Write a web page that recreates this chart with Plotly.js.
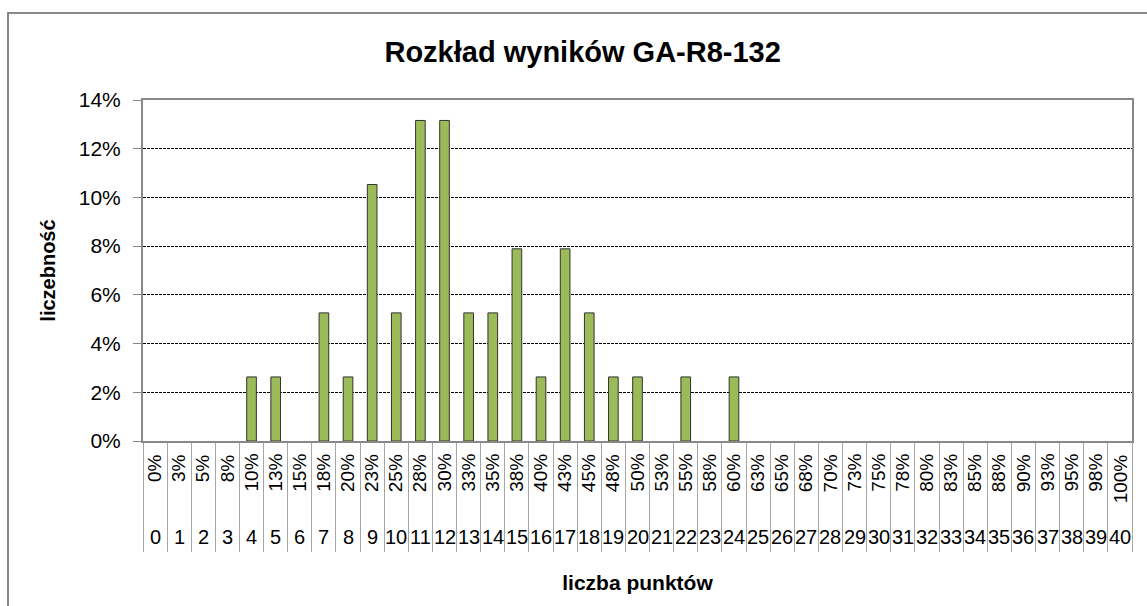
<!DOCTYPE html>
<html>
<head>
<meta charset="utf-8">
<script src="https://cdn.plot.ly/plotly-3.0.1.min.js"></script>
<style>html,body{margin:0;padding:0;background:#fff;} #chart{width:1147px;height:606px;}</style>
</head>
<body>
<div id="chart"></div>
<script>
const points = [0,1,2,3,4,5,6,7,8,9,10,11,12,13,14,15,16,17,18,19,20,21,22,23,24,25,26,27,28,29,30,31,32,33,34,35,36,37,38,39,40];
const percentLabels = ['0%','3%','5%','8%','10%','13%','15%','18%','20%','23%','25%','28%','30%','33%','35%','38%','40%','43%','45%','48%','50%','53%','55%','58%','60%','63%','65%','68%','70%','73%','75%','78%','80%','83%','85%','88%','90%','93%','95%','98%','100%'];
const frequency = [0,0,0,0,2.63,2.63,0,5.26,2.63,10.53,5.26,13.16,13.16,5.26,5.26,7.89,2.63,7.89,5.26,2.63,2.63,0,2.63,0,2.63,0,0,0,0,0,0,0,0,0,0,0,0,0,0,0,0];
const yTicks = [0,2,4,6,8,10,12,14];
const titleText = 'Rozkład wyników GA-R8-132';
const xTitle = 'liczba punktów';
const yTitle = 'liczebność';

const FONT = '"Liberation Sans", Arial, sans-serif';
const boundaries = points.map(p => p - 0.5).concat([points[points.length-1] + 0.5]);

const annotations = [];
points.forEach((p, i) => {
  annotations.push({
    x: p, xref: 'x', y: -0.032, yref: 'paper',
    text: percentLabels[i], textangle: -90, showarrow: false,
    xanchor: 'center', yanchor: 'top',
    font: {family: FONT, size: 19, color: '#000'}
  });
  annotations.push({
    x: p, xref: 'x', y: -0.2815, yref: 'paper',
    text: String(p), showarrow: false,
    xanchor: 'center', yanchor: 'middle',
    font: {family: FONT, size: 20, color: '#000'}
  });
});

const trace = {
  type: 'bar',
  x: points,
  y: frequency,
  marker: {color: '#9BBB59', line: {color: '#333333', width: frequency.map(v => v > 0 ? 1 : 0)}},
  hoverinfo: 'x+y'
};

const layout = {
  width: 1147, height: 606,
  margin: {l: 143, r: 15, t: 100, b: 165},
  paper_bgcolor: '#fff', plot_bgcolor: '#fff',
  bargap: 0.6,
  showlegend: false,
  font: {family: FONT, color: '#000'},
  title: {
    text: titleText, x: 0.508, xanchor: 'center', y: 0.914, yanchor: 'middle',
    font: {family: FONT, size: 29, color: '#000', weight: 'bold'}
  },
  xaxis: {
    range: [-0.5, 40.5],
    tickmode: 'array', tickvals: boundaries, ticktext: boundaries.map(() => ''),
    ticks: 'outside', ticklen: 109, tickwidth: 1, tickcolor: '#a6a6a6',
    showticklabels: false,
    showgrid: false, zeroline: false,
    showline: true, linecolor: '#888', linewidth: 2, mirror: true,
    title: {text: xTitle, standoff: 24, font: {family: FONT, size: 21, color: '#000', weight: 'bold'}},
    automargin: false, fixedrange: true
  },
  yaxis: {
    range: [0, 14],
    tickmode: 'array', tickvals: yTicks, ticktext: yTicks.map(v => v + '%'),
    ticks: 'outside', ticklen: 8, tickwidth: 1, tickcolor: '#888',
    ticklabelstandoff: 8,
    tickfont: {family: FONT, size: 21, color: '#000'},
    showgrid: true, gridcolor: '#000', gridwidth: 1, griddash: '3px,1px',
    zeroline: false,
    showline: true, linecolor: '#888', linewidth: 2, mirror: true,
    title: {text: yTitle, standoff: 18, font: {family: FONT, size: 20, color: '#000', weight: 'bold'}},
    automargin: false, fixedrange: true
  },
  annotations: annotations,
  shapes: [{
    type: 'rect', xref: 'paper', yref: 'paper',
    x0: -0.1365, x1: 1.03, y0: -0.58, y1: 1.2551,
    line: {color: '#888', width: 2}, fillcolor: 'rgba(0,0,0,0)', layer: 'above'
  }]
};

Plotly.newPlot('chart', [trace], layout, {displayModeBar: false, staticPlot: true});
</script>
</body>
</html>
